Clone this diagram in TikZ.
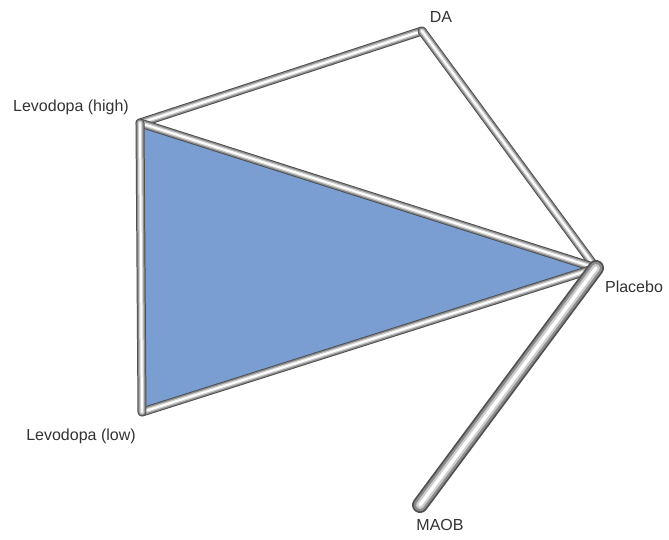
\documentclass[tikz,border=0pt]{standalone}
\usepackage{fontspec}
\setmainfont{Liberation Sans}
\definecolor{netblue}{RGB}{123,158,210}
\definecolor{tubedark}{RGB}{80,80,80}
\definecolor{tubemid}{RGB}{140,140,140}
\definecolor{tubelight}{RGB}{205,205,205}
\begin{document}
\begin{tikzpicture}[
  x=1pt, y=-1pt,
  font=\fontsize{16}{18}\selectfont,
  tube/.style={line cap=round, line join=round, draw=tubedark, line width=#1,
    postaction={draw=tubemid, line width=0.78*#1},
    postaction={draw=tubelight, line width=0.5*#1},
    postaction={draw=white, line width=0.22*#1}},
  tube/.default=9pt,
  lbl/.style={inner sep=0pt, text=black!80},
]
\useasboundingbox (0,0) rectangle (669,540);

% Treatment vertices
\coordinate (lhigh)   at (140,123);
\coordinate (da)      at (422,31);
\coordinate (placebo) at (596,268);
\coordinate (llow)    at (142,412);
\coordinate (maob)    at (420,505);

% Closed loop fill
\fill[netblue] (lhigh) -- (placebo) -- (llow) -- cycle;

% Comparisons
\foreach \a/\b in {lhigh/da, da/placebo, lhigh/placebo, llow/placebo, lhigh/llow}
  \draw[tube] (\a) -- (\b);
\draw[tube=16pt] (placebo) -- (maob);

% Labels
\node[lbl] (tda)  at (441,17)  {DA};
\node[lbl] (thi)  at (71,107)  {Levodopa (high)};
\node[lbl] (tpl)  at (634,287) {Placebo};
\node[lbl] (tlo)  at (81,436)  {Levodopa (low)};
\node[lbl] (tmao) at (440,525) {MAOB};

\end{tikzpicture}
\end{document}
